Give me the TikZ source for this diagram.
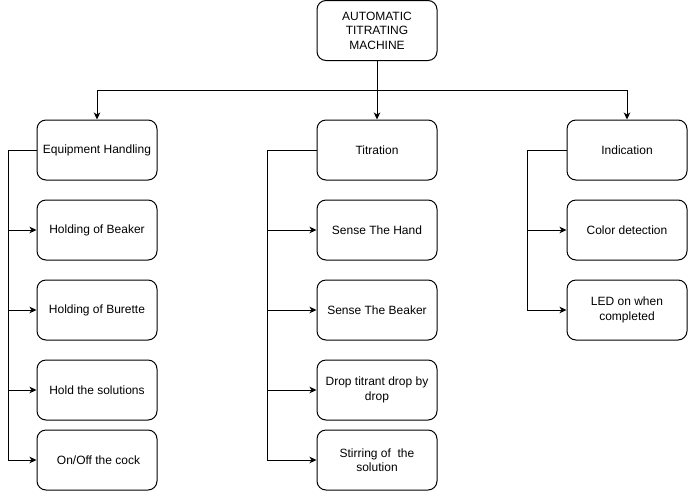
\documentclass[tikz,border=0pt]{standalone}
\usepackage{fontspec}
\setmainfont{Liberation Sans}
\usetikzlibrary{arrows.meta}
\begin{document}
\begin{tikzpicture}[x=1pt,y=-1pt,
  box/.style={draw, line width=1pt, rounded corners=9pt, minimum width=120pt, minimum height=60pt,
    align=center, inner sep=0pt, font=\fontsize{12}{14.5}\selectfont},
  link/.style={line width=1pt},
  conn/.style={line width=1pt, -{Stealth[length=7pt,width=6.5pt,inset=2pt]}}]
\useasboundingbox (0,0) rectangle (688,491);
\node[box] (top) at (377,30.5) {AUTOMATIC\\TITRATING\\MACHINE};
\node[box] (eh) at (97,150) {Equipment Handling};
\node[box] (b1) at (97,230) {Holding of Beaker};
\node[box] (b2) at (97,310) {Holding of Burette};
\node[box] (b3) at (97,390) {Hold the solutions};
\node[box] (b4) at (97,460) {\hspace{3pt}On/Off the cock};
\node[box] (ti) at (377,150) {Titration};
\node[box] (t1) at (377,230) {Sense The Hand};
\node[box] (t2) at (377,310) {Sense The Beaker};
\node[box] (t3) at (377,390) {Drop titrant drop by\\drop};
\node[box] (t4) at (377,460) {Stirring of~ the\\solution};
\node[box] (in) at (627,150) {Indication};
\node[box] (i1) at (627,230) {Color detection};
\node[box] (i2) at (627,310) {LED on when\\completed};
\coordinate (jn) at (377,90);
\draw[link] (top.south) -- (jn);
\draw[conn] (jn) -| (eh.north);
\draw[conn] (jn) -- (ti.north);
\draw[conn] (jn) -| (in.north);
\coordinate (eL) at (8,150);
\coordinate (tL) at (267.5,150);
\coordinate (iL) at (527.5,150);
\draw[link] (eh.west) -- (eL);
\draw[link] (ti.west) -- (tL);
\draw[link] (in.west) -- (iL);
\foreach \n in {b1,b2,b3,b4} \draw[conn] (eL) |- (\n.west);
\foreach \n in {t1,t2,t3,t4} \draw[conn] (tL) |- (\n.west);
\foreach \n in {i1,i2} \draw[conn] (iL) |- (\n.west);
\end{tikzpicture}
\end{document}
